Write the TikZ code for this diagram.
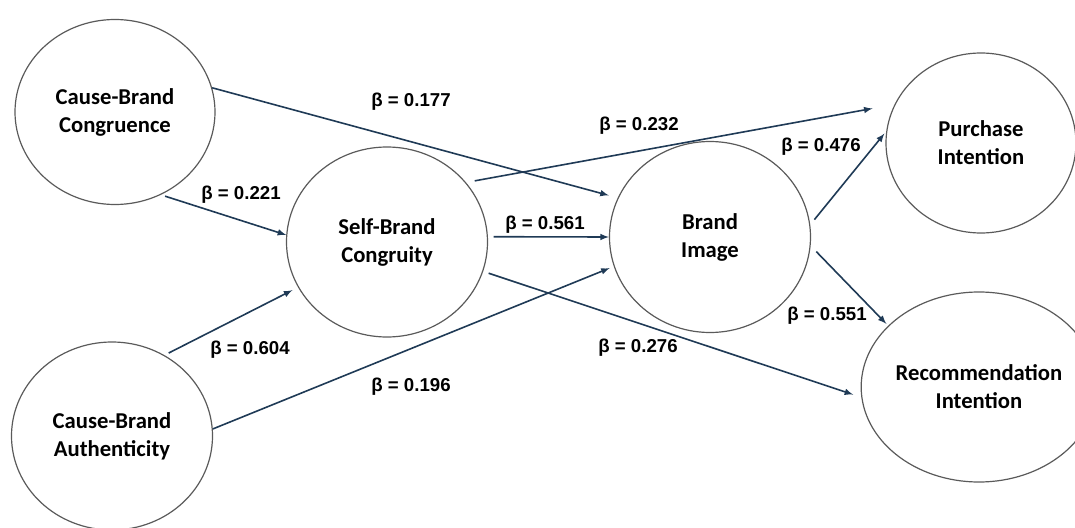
\documentclass[tikz,border=0pt]{standalone}
\usepackage{fontspec}
\setmainfont{Liberation Sans}
\newfontfamily\calibrifont{Carlito}
\usetikzlibrary{shapes.geometric}
\definecolor{arrblue}{HTML}{1F3A56}
\definecolor{ringgray}{HTML}{5A5A5A}

\begin{document}
\begin{tikzpicture}[x=0.75pt, y=-0.75pt]
    \tikzstyle{construct}=[ellipse, draw=ringgray, line width=0.9pt, inner sep=0pt, align=center, font=\calibrifont\bfseries\fontsize{17}{21}\selectfont]
    \tikzstyle{parr}=[line width=1.2pt, draw=arrblue, -latex]
    \tikzstyle{coef}=[font=\bfseries\fontsize{14}{17}\selectfont]

    \useasboundingbox (0,0) rectangle (1075,528);

    % constructs
    \node[construct, minimum width=150pt, minimum height=138.75pt] (cbc) at (115,112) {Cause-Brand\\Congruence};
    \node[construct, minimum width=150.75pt, minimum height=141pt] (cba) at (112,436) {Cause-Brand\\Authenticity};
    \node[construct, minimum width=150.75pt, minimum height=142.5pt] (sbc) at (387,242) {Self-Brand\\Congruity};
    \node[construct, minimum width=150.75pt, minimum height=143.25pt] (bi) at (710,237) {Brand\\Image};
    \node[construct, minimum width=142.5pt, minimum height=135pt] (pi) at (981,143) {Purchase\\Intention};
    \node[construct, minimum width=144pt, minimum height=142.5pt] (ri) at (979,387) {Recommendation\\Intention};

    % paths
    \draw[parr, shorten >=6.9pt] (cbc.14) -- (bi.157);
    \draw[parr, shorten <=3.3pt] (cbc.-61) -- (sbc.176);
    \draw[parr, shorten <=6.6pt, shorten >=16.7pt] (sbc.37) -- (pi.156);
    \draw[parr, shorten <=4.2pt] (sbc.3) -- (bi.180);
    \draw[parr, shorten <=4.3pt, shorten >=6.4pt] (sbc.-17) -- (ri.185.5);
    \draw[parr, shorten <=3.5pt, shorten >=4.7pt] (cba.57) -- (sbc.207);
    \draw[parr, shorten >=3.3pt] (cba.4.5) -- (bi.197);
    \draw[parr, shorten <=4.9pt, shorten >=2.1pt] (bi.7) -- (pi.173.5);
    \draw[parr, shorten <=6pt, shorten >=1.9pt] (bi.-5) -- (ri.146.6);

    % coefficients
    \node[coef] (b177) at (411,102) {β = 0.177};
    \node[coef] (b221) at (241,195) {β = 0.221};
    \node[coef] (b232) at (639,126) {β = 0.232};
    \node[coef] (b476) at (821,147) {β = 0.476};
    \node[coef] (b561) at (545,225) {β = 0.561};
    \node[coef] (b604) at (250,350) {β = 0.604};
    \node[coef] (b276) at (638,348) {β = 0.276};
    \node[coef] (b551) at (827,316) {β = 0.551};
    \node[coef] (b196) at (411,387) {β = 0.196};
\end{tikzpicture}
\end{document}
